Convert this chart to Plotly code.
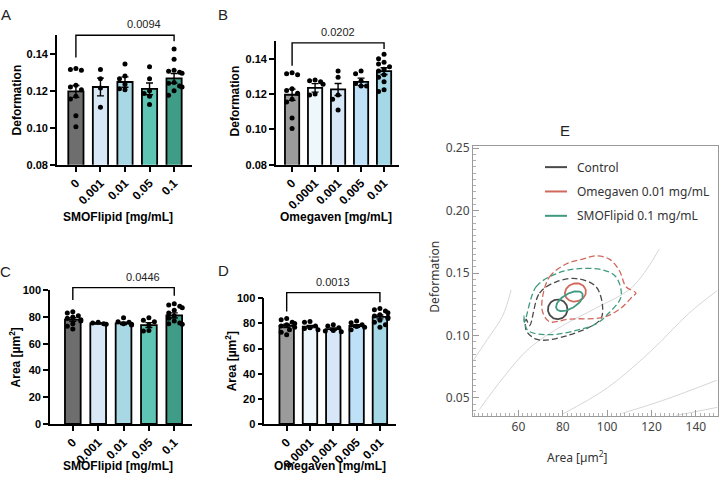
import numpy as np
import plotly.graph_objects as go

W, H = 719, 490

# ---------------- data ----------------
smof_cats = ["0", "0.001", "0.01", "0.05", "0.1"]
omega_cats = ["0", "0.0001", "0.001", "0.005", "0.01"]

ctrl_def = [0.132, 0.1315, 0.131, 0.123, 0.122, 0.1205, 0.117, 0.1155, 0.1065, 0.1005]
smof_def_pts = [
    ctrl_def,
    [0.1315, 0.1265, 0.1215, 0.111],
    [0.1345, 0.128, 0.1265, 0.1235, 0.1205, 0.121],
    [0.133, 0.1265, 0.12, 0.1185, 0.117, 0.1125],
    [0.1425, 0.137, 0.131, 0.1305, 0.13, 0.1295, 0.1245, 0.124, 0.1225, 0.122, 0.12, 0.1175],
]
smof_def_mean = [0.1196, 0.1220, 0.1247, 0.1210, 0.1267]
smof_def_sem = [0.0032, 0.0048, 0.0028, 0.0032, 0.0026]

omega_def_pts = [
    ctrl_def,
    [0.128, 0.1275, 0.127, 0.1255, 0.12, 0.1195],
    [0.133, 0.1295, 0.1195, 0.117, 0.111],
    [0.133, 0.1315, 0.1275, 0.1245, 0.1245, 0.126],
    [0.1425, 0.14, 0.138, 0.137, 0.1355, 0.134, 0.133, 0.131, 0.1295, 0.127, 0.1225, 0.1215],
]
omega_def_mean = [0.1196, 0.1235, 0.1226, 0.1269, 0.1330]
omega_def_sem = [0.0032, 0.0024, 0.0034, 0.0021, 0.0019]

ctrl_area = [84, 83, 81, 80, 79, 78, 77, 75, 73, 71]
smof_area_pts = [
    ctrl_area,
    [76, 75.5, 75, 74.5],
    [79.5, 76.5, 76, 75, 74.5, 74],
    [79.5, 77.5, 76.5, 74, 70, 69.5],
    [90, 89, 88, 87, 85, 83, 81, 79, 77, 75.5, 75, 74.5],
]
smof_area_mean = [78.1, 75.2, 75.3, 74.0, 81.2]
smof_area_sem = [1.3, 0.5, 0.9, 1.8, 1.9]

omega_area_pts = [
    ctrl_area,
    [81.5, 81, 78, 76.5, 76, 75],
    [79, 78, 76.5, 74.5, 74, 73.5],
    [82, 80.5, 79, 77.5, 77, 75],
    [92, 91, 90, 88.5, 87, 86, 85, 84, 82.5, 81, 79, 77],
]
omega_area_mean = [78.1, 77.5, 75.5, 78.0, 85.2]
omega_area_sem = [1.3, 1.0, 0.9, 1.0, 1.5]

smof_colors = ["#6e6e6e", "#d9e8f7", "#a8d8e3", "#5ec4b4", "#3f9c87"]
omega_colors = ["#9b9b9b", "#eef7fc", "#d8e7f8", "#bfe1f7", "#a4d8e6"]

# significance (p-value, bracket top, left drop end, right drop end)
sig_A = ("0.0094", 0.150, 0.1379, 0.1468)
sig_B = ("0.0202", 0.149, 0.1360, 0.1455)
sig_C = ("0.0446", 102.0, 92.7, 95.9)
sig_D = ("0.0013", 104.6, 89.6, 97.0)

# Panel E: density contours (area um^2, deformation)
ctrl_outer_x = [65.0, 69.5, 77.0, 86.0, 95.0, 98.0, 96.5, 77.0, 68.0, 63.5, 63.5]
ctrl_outer_y = [0.108, 0.134, 0.143, 0.1456, 0.1391, 0.121, 0.1119, 0.0976, 0.0971, 0.1041, 0.1132]
omega_outer_x = [70.7, 74.0, 81.5, 89.0, 95.0, 101.0, 105.5, 108.5, 113.0, 111.5, 105.5, 98.0, 83.0, 74.0, 71.0]
omega_outer_y = [0.1288, 0.1469, 0.1573, 0.1612, 0.1638, 0.1612, 0.1521, 0.1391, 0.1340, 0.1313,
                 0.1210, 0.1145, 0.1132, 0.1111, 0.1184]
smof_outer_x = [62.7, 68.0, 77.0, 86.0, 98.0, 104.0, 106.3, 101.0, 95.0, 86.0, 74.0, 64.2, 62.4]
smof_outer_y = [0.1106, 0.1391, 0.1495, 0.1534, 0.1526, 0.1469, 0.1313, 0.1184, 0.1093, 0.1041,
                0.1007, 0.1041, 0.1158]
# inner ellipses: centre x, centre y, semi-axis a (um^2), semi-axis b (deformation), tilt (deg)
ctrl_inner = (77.7, 0.1210, 4.4, 0.0079, 0)
omega_inner = (85.7, 0.1345, 4.8, 0.0072, 20)
smof_inner = (83.0, 0.1275, 6.8, 0.0058, 32)

# isoelastic reference lines
iso_lines = [
    ([39.5, 46.0, 52.8, 56.7], [0.0797, 0.097, 0.1155, 0.1365]),
    ([42.4, 53.0, 65.0, 80.0, 95.0, 111.4, 123.5], [0.0408, 0.066, 0.090, 0.108, 0.122, 0.1389, 0.1692]),
    ([79.8, 100.0, 120.0, 137.0, 149.6], [0.0370, 0.058, 0.088, 0.118, 0.136]),
    ([106.8, 125.0, 149.6], [0.0378, 0.048, 0.0643]),
    ([131.0, 149.6], [0.0360, 0.0425]),
]

e_names = ["Control", "Omegaven 0.01 mg/mL", "SMOFlipid 0.1 mg/mL"]
e_colors = ["#4a4a4a", "#d0685c", "#3f9a80"]

# ---------------- figure ----------------
FONT = "Liberation Sans, Arial, sans-serif"
EFONT = "Noto Sans, Open Sans, sans-serif"
fig = go.Figure()


def fx(p):
    return p / W


def fy(p):
    return 1 - p / H


# axis geometry in pixels (left, right) / (bottom, top) and ranges
AX = {
    "A": dict(xd=(57, 192), xr=(-0.77, 4.73), yd=(162, 29), yr=(0.08, 0.15)),
    "B": dict(xd=(276, 399), xr=(-0.7, 4.65), yd=(162, 35), yr=(0.08, 0.15)),
    "C": dict(xd=(50, 192), xr=(-0.9, 4.7), yd=(428.3, 291), yr=(0, 100)),
    "D": dict(xd=(264.3, 396), xr=(-0.96, 4.69), yd=(428.3, 299.3), yr=(0, 100)),
}


def to_paper(p, xv, yv):
    g = AX[p]
    x0, x1 = g["xd"]
    r0, r1 = g["xr"]
    xp = x0 + (xv - r0) / (r1 - r0) * (x1 - x0)
    y0, y1 = g["yd"]
    s0, s1 = g["yr"]
    ypp = y0 + (yv - s0) / (s1 - s0) * (y1 - y0)
    return fx(xp), fy(ypp)


def swarm(vals, px_per_unit, dot=5.2):
    placed = []
    order = sorted(range(len(vals)), key=lambda i: -vals[i])
    res = [0.0] * len(vals)
    for i in order:
        ypx = vals[i] * px_per_unit
        c = 0
        for c in [0, -5.5, 5.5, -2.8, 2.8, -8, 8]:
            if all((c - ox) ** 2 + (ypx - oy) ** 2 >= dot ** 2 for ox, oy in placed):
                break
        placed.append((c, ypx))
        res[i] = c
    return res


def bar_panel(ax, ay, pts, means, sems, colors, ypx_unit, xpx_unit):
    fig.add_trace(go.Bar(
        x=list(range(5)), y=means, width=0.62,
        marker=dict(color=colors, line=dict(color="black", width=1.8)),
        error_y=dict(type="data", array=sems, color="black", thickness=1.4, width=3.5),
        xaxis=ax, yaxis=ay, showlegend=False, hoverinfo="skip"))
    xs, ys = [], []
    for i, v in enumerate(pts):
        offs = swarm(v, ypx_unit)
        xs += [i + o / xpx_unit for o in offs]
        ys += v
    fig.add_trace(go.Scatter(x=xs, y=ys, mode="markers",
                             marker=dict(color="black", size=5),
                             xaxis=ax, yaxis=ay, showlegend=False, cliponaxis=False,
                             hoverinfo="skip"))


def bracket(p, sig, text_shift):
    pv, top, l, r = sig
    pts = [to_paper(p, 0, l), to_paper(p, 0, top), to_paper(p, 4, top), to_paper(p, 4, r)]
    path = "M {} {} L {} {} L {} {} L {} {}".format(*[c for pt in pts for c in pt])
    fig.add_shape(type="path", path=path, xref="paper", yref="paper",
                  line=dict(color="black", width=1.4))
    mx, my = to_paper(p, 2, top)
    fig.add_annotation(x=mx, y=my, xref="paper", yref="paper", text=pv, showarrow=False,
                       yanchor="bottom", yshift=text_shift,
                       font=dict(family=FONT, size=11, color="#222"))


bar_panel("x", "y", smof_def_pts, smof_def_mean, smof_def_sem, smof_colors, 1900, 24.6)
bar_panel("x2", "y2", omega_def_pts, omega_def_mean, omega_def_sem, omega_colors, 1817, 23.0)
bar_panel("x3", "y3", smof_area_pts, smof_area_mean, smof_area_sem, smof_colors, 1.373, 25.3)
bar_panel("x4", "y4", omega_area_pts, omega_area_mean, omega_area_sem, omega_colors, 1.29, 23.3)
bracket("A", sig_A, 3)
bracket("B", sig_B, 3)
bracket("C", sig_C, 3)
bracket("D", sig_D, 3)

# panel E
for ix, iy in iso_lines:
    fig.add_trace(go.Scatter(x=ix, y=iy, mode="lines", line=dict(color="#d6d6d6", width=1, shape="spline"),
                             xaxis="x5", yaxis="y5", showlegend=False, hoverinfo="skip"))

outers = [(ctrl_outer_x, ctrl_outer_y), (omega_outer_x, omega_outer_y), (smof_outer_x, smof_outer_y)]
for (ox, oy), c in zip(outers, e_colors):
    fig.add_trace(go.Scatter(x=ox + ox[:1], y=oy + oy[:1], mode="lines",
                             line=dict(color=c, width=1.3, dash="6px,3px", shape="spline", smoothing=1.0),
                             xaxis="x5", yaxis="y5", showlegend=False, hoverinfo="skip"))

t = np.linspace(0, 2 * np.pi, 80)
for (cx, cy, a, b, ang), c in zip([ctrl_inner, omega_inner, smof_inner], e_colors):
    th = np.deg2rad(ang)
    ua, ub = a * 2.22, b * 1285
    u = ua * np.cos(t) * np.cos(th) - ub * np.sin(t) * np.sin(th)
    v = ua * np.cos(t) * np.sin(th) + ub * np.sin(t) * np.cos(th)
    fig.add_trace(go.Scatter(x=cx + u / 2.22, y=cy + v / 1285, mode="lines",
                             line=dict(color=c, width=1.8),
                             xaxis="x5", yaxis="y5", showlegend=False, hoverinfo="skip"))

# ---------------- axes ----------------
bold_tick = dict(family=FONT, size=11, color="black", weight="bold")
bold_xtick = dict(family=FONT, size=12, color="black", weight="bold")
common_bar_x = dict(showline=True, linecolor="black", linewidth=1.6, ticks="outside", ticklen=5,
                    tickwidth=1.5, tickcolor="black", showgrid=False, zeroline=False,
                    tickangle=-45, tickfont=bold_xtick, tickvals=list(range(5)), fixedrange=True)
common_bar_y = dict(showline=True, linecolor="black", linewidth=1.6, ticks="outside", ticklen=5,
                    tickwidth=1.5, tickcolor="black", showgrid=False, zeroline=False,
                    tickfont=bold_tick, fixedrange=True)


def xdom(p):
    a, b = AX[p]["xd"]
    return [fx(a), fx(b)]


def ydom(p):
    a, b = AX[p]["yd"]
    return [fy(a), fy(b)]


fig.update_layout(
    xaxis=dict(common_bar_x, domain=xdom("A"), range=AX["A"]["xr"], ticktext=smof_cats, anchor="y"),
    yaxis=dict(common_bar_y, domain=ydom("A"), range=AX["A"]["yr"], tickvals=[0.08, 0.10, 0.12, 0.14],
               tickformat=".2f", anchor="x"),
    xaxis2=dict(common_bar_x, domain=xdom("B"), range=AX["B"]["xr"], ticktext=omega_cats, anchor="y2"),
    yaxis2=dict(common_bar_y, domain=ydom("B"), range=AX["B"]["yr"], tickvals=[0.08, 0.10, 0.12, 0.14],
                tickformat=".2f", anchor="x2"),
    xaxis3=dict(common_bar_x, domain=xdom("C"), range=AX["C"]["xr"], ticktext=smof_cats, anchor="y3"),
    yaxis3=dict(common_bar_y, domain=ydom("C"), range=AX["C"]["yr"], tickvals=[0, 20, 40, 60, 80, 100],
                anchor="x3"),
    xaxis4=dict(common_bar_x, domain=xdom("D"), range=AX["D"]["xr"], ticktext=omega_cats, anchor="y4"),
    yaxis4=dict(common_bar_y, domain=ydom("D"), range=AX["D"]["yr"], tickvals=[0, 20, 40, 60, 80, 100],
                anchor="x4"),
    xaxis5=dict(domain=[fx(473), fx(718)], range=[39.5, 150], anchor="y5", showline=True, mirror=True,
                linecolor="#9a9a9a", linewidth=1, ticks="inside", ticklen=6, tickcolor="#9a9a9a",
                tickvals=[60, 80, 100, 120, 140], showgrid=False, zeroline=False,
                tickfont=dict(family=EFONT, size=12, color="#444"),
                minor=dict(ticks="inside", ticklen=3, tickcolor="#b0b0b0", dtick=2, tick0=0, showgrid=False),
                fixedrange=True),
    yaxis5=dict(domain=[fy(420), fy(143)], range=[0.0357, 0.2516], anchor="x5", showline=True, mirror=True,
                linecolor="#9a9a9a", linewidth=1, ticks="inside", ticklen=6, tickcolor="#9a9a9a",
                tickvals=[0.05, 0.10, 0.15, 0.20, 0.25], tickformat=".2f", showgrid=False, zeroline=False,
                tickfont=dict(family=EFONT, size=12, color="#444"),
                minor=dict(ticks="inside", ticklen=3, tickcolor="#b0b0b0", dtick=0.005, tick0=0, showgrid=False),
                fixedrange=True),
    width=W, height=H, margin=dict(l=0, r=0, t=0, b=0),
    paper_bgcolor="white", plot_bgcolor="white", showlegend=False,
    font=dict(family=FONT),
)


# ---------------- text ----------------
def ann(x, y, text, size=11, bold=True, angle=0, color="black", family=FONT, xanchor="center"):
    fig.add_annotation(x=fx(x), y=fy(y), xref="paper", yref="paper", text=text, showarrow=False,
                       textangle=angle, xanchor=xanchor, yanchor="middle",
                       font=dict(family=family, size=size, color=color, weight="bold" if bold else "normal"))


ann(118, 216, "SMOFlipid [mg/mL]", 12)
ann(336, 216, "Omegaven [mg/mL]", 12)
ann(118, 471, "SMOFlipid [mg/mL]", 12)
ann(330, 471, "Omegaven [mg/mL]", 12)
ann(17, 96, "Deformation", 12, angle=-90)
ann(235, 97, "Deformation", 12, angle=-90)
ann(15, 360, "Area [µm<sup>2</sup>]", 12, angle=-90)
ann(231, 364, "Area [µm<sup>2</sup>]", 12, angle=-90)

for x, y, l in [(6, 8, "A"), (223, 8, "B"), (5, 272, "C"), (223, 271, "D"), (565, 127, "E")]:
    ann(x, y, l, 15, bold=False, color="#222")

ann(435, 277, "Deformation", 12, bold=False, angle=-90, color="#333", family=EFONT)
ann(577, 462, "Area [µm<sup>2</sup>]", 12, bold=False, color="#333", family=EFONT)

# legend for E
for i, (n, c) in enumerate(zip(e_names, e_colors)):
    yy = 164.5 + i * 25
    fig.add_shape(type="line", xref="paper", yref="paper", x0=fx(545), x1=fx(567), y0=fy(yy), y1=fy(yy),
                  line=dict(color=c, width=2))
    ann(575, yy, n, 12, bold=False, color="#333", family=EFONT, xanchor="left")

fig.write_html("out.html")
